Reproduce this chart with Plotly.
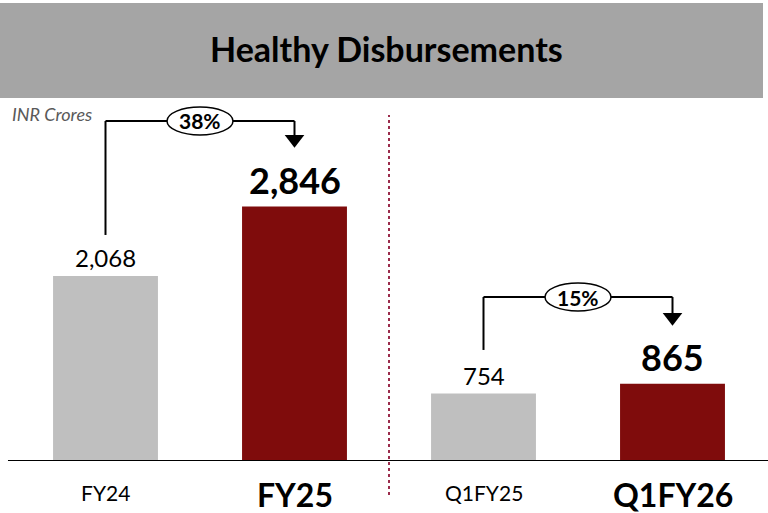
import plotly.graph_objects as go

categories = ["FY24", "FY25", "Q1FY25", "Q1FY26"]
values = [2068, 2846, 754, 865]
value_labels = ["2,068", "2,846", "754", "865"]
growth_labels = ["38%", "15%"]
unit_label = "INR Crores"
title_text = "Healthy Disbursements"

GRAY = "#bfbfbf"
MAROON = "#7f0c0c"
FONT = "Lato"
bar_colors = [GRAY, MAROON, GRAY, MAROON]
highlight = [False, True, False, True]

YMAX = 4060

fig = go.Figure()
fig.add_trace(go.Bar(
    x=list(range(len(categories))), y=values,
    marker=dict(color=bar_colors, line=dict(width=0)),
    width=0.555, hoverinfo="skip", showlegend=False,
))

annotations = []
for i, (v, lab, hi) in enumerate(zip(values, value_labels, highlight)):
    annotations.append(dict(
        x=i, y=v, xref="x", yref="y", text=f"<b>{lab}</b>" if hi else lab,
        showarrow=False, yanchor="bottom", yshift=3 if hi else 2,
        font=dict(family=FONT, size=36 if hi else 24, color="#000000"),
    ))
    annotations.append(dict(
        x=i, y=0, xref="x", yref="y", text=f"<b>{categories[i]}</b>" if hi else categories[i],
        showarrow=False, yanchor="top", yshift=-12 if hi else -17,
        font=dict(family=FONT, size=32 if hi else 21, color="#000000"),
    ))

annotations.append(dict(
    x=0.5, y=1.136, xref="paper", yref="paper", text=f"<b>{title_text}</b>",
    showarrow=False, xanchor="center", yanchor="middle", xshift=-3,
    font=dict(family=FONT, size=34, color="#000000"),
))
annotations.append(dict(
    x=0.0, y=1.0, xref="paper", yref="paper", text=f"<i>{unit_label}</i>",
    showarrow=False, xanchor="left", yanchor="top", xshift=-1, yshift=-3,
    font=dict(family=FONT, size=18, color="#595959"),
))

shapes = []
shapes.append(dict(type="rect", xref="paper", yref="paper",
                   x0=-0.0146, x1=0.9947, y0=1.0, y1=1.2617,
                   fillcolor="#a5a5a5", line=dict(width=0), layer="below"))
shapes.append(dict(type="line", xref="paper", yref="y", x0=-0.004, x1=1.01, y0=0, y1=0,
                   line=dict(color="#000000", width=2)))
shapes.append(dict(type="line", xref="x", yref="paper", x0=1.5, x1=1.5, y0=-0.094, y1=0.953,
                   line=dict(color="#9b2c4c", width=2, dash="dot")))

pairs = [(0, 1), (2, 3)]
start_off = [460, 488]
level_off = [957, 969]
tip_off = [633, 623]
tri_x, tri_y = [], []
for k, (a, b) in enumerate(pairs):
    y_start = values[a] + start_off[k]
    y_level = max(values[a], values[b]) + level_off[k]
    y_tip = values[b] + tip_off[k]
    line = dict(color="#000000", width=2)
    shapes.append(dict(type="line", xref="x", yref="y", x0=a, x1=a, y0=y_start, y1=y_level, line=line))
    shapes.append(dict(type="line", xref="x", yref="y", x0=a, x1=b, y0=y_level, y1=y_level, line=line))
    shapes.append(dict(type="line", xref="x", yref="y", x0=b, x1=b, y0=y_level, y1=y_tip + 100, line=line))
    shapes.append(dict(type="circle", xref="x", yref="y", xsizemode="pixel", ysizemode="pixel",
                       xanchor=(a + b) / 2, yanchor=y_level, x0=-33, x1=33, y0=-14, y1=14,
                       fillcolor="#ffffff", line=dict(color="#000000", width=1.5)))
    annotations.append(dict(x=(a + b) / 2, y=y_level, xref="x", yref="y",
                            text=f"<b>{growth_labels[k]}</b>", showarrow=False,
                            font=dict(family=FONT, size=21, color="#000000")))
    tri_x.append(b)
    tri_y.append(y_tip + 120)

fig.add_trace(go.Scatter(x=tri_x, y=tri_y, mode="markers",
                         marker=dict(symbol="triangle-down", size=17, color="#000000", line=dict(width=0)),
                         hoverinfo="skip", showlegend=False, cliponaxis=False))

fig.update_layout(
    width=768, height=513,
    margin=dict(l=11, r=1, t=98, b=52),
    paper_bgcolor="#ffffff", plot_bgcolor="#ffffff",
    xaxis=dict(range=[-0.5, 3.5], showticklabels=False, showgrid=False, zeroline=False,
               showline=False, ticks="", fixedrange=True),
    yaxis=dict(range=[0, YMAX], showticklabels=False, showgrid=False, zeroline=False,
               showline=False, ticks="", fixedrange=True),
    shapes=shapes, annotations=annotations, bargap=0.44,
)

fig.write_html("out.html", config={"displayModeBar": False},
               post_script="document.body.style.margin='0';document.body.style.overflow='hidden';")
